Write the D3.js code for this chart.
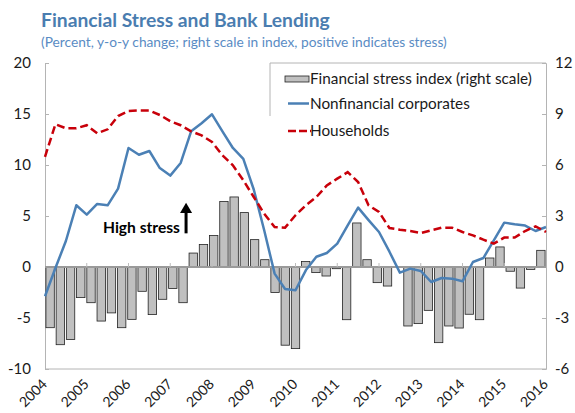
<!DOCTYPE html>
<html>
<head>
<meta charset="utf-8">
<script src="https://cdn.jsdelivr.net/npm/d3@7"></script>
<style>
  body { margin: 0; background: #fff; }
  svg { display: block; font-family: Lato, "Open Sans", sans-serif; }
</style>
</head>
<body>
<svg id="chart" width="575" height="413"></svg>
<script>
// ---- data -------------------------------------------------------------
const years = ["2004", "2005", "2006", "2007", "2008", "2009", "2010",
               "2011", "2012", "2013", "2014", "2015", "2016"];
// quarterly categories, 2004Q1 .. 2016Q1
const quarters = years.flatMap(y => ["Q1", "Q2", "Q3", "Q4"].map(q => y + q)).slice(0, 49);

// Financial stress index (right scale)
const stressIndex = [
  -3.57, -4.57, -4.27, -1.80, -2.10, -3.18, -2.70, -3.57, -3.08, -1.43,
  -2.80, -1.90, -1.27, -2.10,  0.82,  1.32,  1.85,  3.85,  4.12,  3.20,
   1.61,  0.43, -1.50, -4.60, -4.80,  0.32, -0.33, -0.53, -0.10, -3.10,
   2.59,  0.43, -0.92, -1.12,  0.00, -3.47, -3.33, -2.55, -4.45, -3.47,
  -3.59, -2.78, -3.10,  0.53,  1.18, -0.25, -1.24, -0.14,  0.98
];

// Bank lending growth, percent y-o-y (left scale)
const corporates = [
  -2.87, -0.10,  2.55,  6.05,  5.13,  6.18,  6.05,  7.68, 11.67, 11.00,
  11.37,  9.70,  8.96, 10.20, 13.30, 14.10, 14.97, 13.30, 11.67, 10.60,
   7.60,  3.60, -0.65, -2.15, -2.28, -0.30,  1.00,  1.37,  2.29,  4.09,
   5.82,  4.60,  3.43,  1.50, -0.55, -0.16, -0.39, -1.47, -1.08, -1.14,
  -1.40,  0.49,  0.88,  2.60,  4.35,  4.19,  4.06,  3.53,  3.92
];
const households = [
  10.80, 14.00, 13.60, 13.60, 13.90, 13.10, 13.50, 14.80, 15.30, 15.35,
  15.35, 14.90, 14.30, 13.90, 13.30, 12.90, 12.25, 10.95,  9.97,  8.50,
   6.86,  5.23,  3.92,  3.86,  5.07,  6.05,  6.86,  8.00,  8.66,  9.30,
   8.33,  6.05,  5.39,  3.82,  3.66,  3.53,  3.33,  3.60,  3.86,  3.86,
   3.43,  3.10,  2.68,  2.29,  2.88,  2.88,  3.53,  3.99,  3.43
];

const leftTicks = [-10, -5, 0, 5, 10, 15, 20];
const rightTicks = [-6, -3, 0, 3, 6, 9, 12];

// ---- layout -----------------------------------------------------------
const plot = { left: 45, right: 546, top: 63, bottom: 369 };
const frameColor = "#b4b4b4";
const textColor = "#1a1a1a";

const svg = d3.select("#chart");

const xBand = d3.scaleBand().domain(quarters)
  .range([plot.left, plot.right]).paddingInner(0.18).paddingOuter(0.09);
const xPoint = d3.scalePoint().domain(quarters)
  .range([plot.left, plot.right]).padding(0);
const yLeft = d3.scaleLinear().domain([-10, 20]).range([plot.bottom, plot.top]);
const yRight = d3.scaleLinear().domain([-6, 12]).range([plot.bottom, plot.top]);

// scale a text element's font size so it spans the given width
function fitWidth(sel, width) {
  const len = sel.node().getComputedTextLength();
  const fs = parseFloat(sel.attr("font-size"));
  sel.attr("font-size", (fs * width / len).toFixed(2));
  return sel;
}

// ---- titles -----------------------------------------------------------
fitWidth(svg.append("text")
  .attr("x", 41).attr("y", 27)
  .attr("font-size", 19).attr("font-weight", 700)
  .attr("fill", "#4a7db0")
  .text("Financial Stress and Bank Lending"), 289);

fitWidth(svg.append("text")
  .attr("x", 41).attr("y", 47)
  .attr("font-size", 13)
  .attr("fill", "#5a8cc4")
  .text("(Percent, y-o-y change; right scale in index, positive indicates stress)"), 406);

// ---- frame and axes ---------------------------------------------------
const axisL = svg.append("g").attr("transform", `translate(${plot.left},0)`)
  .call(d3.axisRight(yLeft).tickValues(leftTicks).tickSize(4).tickFormat(""));
const axisR = svg.append("g").attr("transform", `translate(${plot.right},0)`)
  .call(d3.axisLeft(yRight).tickValues(rightTicks).tickSize(4).tickFormat(""));
[axisL, axisR].forEach(g => {
  g.select(".domain").attr("stroke", frameColor).attr("stroke-width", 1);
  g.selectAll(".tick line").attr("stroke", frameColor);
});
svg.append("line")
  .attr("x1", plot.left).attr("x2", plot.right)
  .attr("y1", plot.bottom).attr("y2", plot.bottom)
  .attr("stroke", frameColor);

svg.append("g").selectAll("text").data(leftTicks).join("text")
  .attr("x", 31).attr("y", d => yLeft(d)).attr("dy", "0.36em")
  .attr("text-anchor", "end").attr("font-size", 15).attr("fill", textColor)
  .text(d => d);

svg.append("g").selectAll("text").data(rightTicks).join("text")
  .attr("x", 555).attr("y", d => yRight(d)).attr("dy", "0.36em")
  .attr("text-anchor", "start").attr("font-size", 15).attr("fill", textColor)
  .text(d => d);

// ---- bars -------------------------------------------------------------
svg.append("g").selectAll("rect").data(stressIndex).join("rect")
  .attr("x", (d, i) => xBand(quarters[i]))
  .attr("width", xBand.bandwidth())
  .attr("y", d => Math.min(yRight(d), yRight(0)))
  .attr("height", d => Math.abs(yRight(d) - yRight(0)))
  .attr("fill", "#c0c0c0")
  .attr("stroke", "#222")
  .attr("stroke-width", 0.8);

// zero line with yearly ticks
svg.append("line")
  .attr("x1", plot.left).attr("x2", plot.right)
  .attr("y1", yRight(0)).attr("y2", yRight(0))
  .attr("stroke", "#9a9a9a").attr("stroke-width", 2);

const yearStarts = years.map(y => y + "Q1");
svg.append("g").selectAll("line").data(yearStarts.slice(1, -1)).join("line")
  .attr("x1", d => xPoint(d)).attr("x2", d => xPoint(d))
  .attr("y1", yRight(0)).attr("y2", yRight(0) - 4)
  .attr("stroke", "#bdbdbd");

// rotated year labels
svg.append("g").selectAll("text").data(years).join("text")
  .attr("transform", d => `translate(${xPoint(d + "Q1") + 3},385) rotate(-45)`)
  .attr("text-anchor", "end").attr("font-size", 14).attr("fill", textColor)
  .text(d => d);

// ---- lines ------------------------------------------------------------
const lineL = d3.line().x((d, i) => xPoint(quarters[i])).y(d => yLeft(d));

svg.append("path").datum(corporates)
  .attr("d", lineL)
  .attr("fill", "none").attr("stroke", "#4b80b5")
  .attr("stroke-width", 2.5).attr("stroke-linejoin", "round");

svg.append("path").datum(households)
  .attr("d", lineL)
  .attr("fill", "none").attr("stroke", "#c8000a")
  .attr("stroke-width", 2.5).attr("stroke-dasharray", "8,4");

// ---- annotation -------------------------------------------------------
const arrowX = xBand(quarters[14]) - 3;
svg.append("line")
  .attr("x1", arrowX).attr("x2", arrowX)
  .attr("y1", yLeft(3.3)).attr("y2", yLeft(5.6))
  .attr("stroke", "#000").attr("stroke-width", 3);
svg.append("path")
  .attr("d", `M${arrowX - 6},${yLeft(5.3)} L${arrowX},${yLeft(6.3)} L${arrowX + 6},${yLeft(5.3)} Z`)
  .attr("fill", "#000");

fitWidth(svg.append("text")
  .attr("x", 103).attr("y", yLeft(3.3))
  .attr("font-size", 14).attr("font-weight", 700).attr("fill", "#000")
  .text("High stress"), 77);

// ---- legend -----------------------------------------------------------
svg.append("path")
  .attr("d", "M270,116 V63 H546")
  .attr("fill", "none").attr("stroke", frameColor);

const legend = svg.append("g");
legend.append("rect")
  .attr("x", 285).attr("y", 76).attr("width", 24).attr("height", 6)
  .attr("fill", "#c0c0c0").attr("stroke", "#222").attr("stroke-width", 0.8);
legend.append("line")
  .attr("x1", 288).attr("x2", 309).attr("y1", 103.5).attr("y2", 103.5)
  .attr("stroke", "#4b80b5").attr("stroke-width", 2.5);
legend.append("line")
  .attr("x1", 288).attr("x2", 311).attr("y1", 131).attr("y2", 131)
  .attr("stroke", "#c8000a").attr("stroke-width", 2.5).attr("stroke-dasharray", "8,3");

const legendLabels = ["Financial stress index (right scale)", "Nonfinancial corporates", "Households"];
const legendY = [84, 108.5, 136];
const lt = legend.selectAll("text").data(legendLabels).join("text")
  .attr("x", 310).attr("y", (d, i) => legendY[i])
  .attr("font-size", 15).attr("fill", textColor)
  .text(d => d);
// common size from the longest entry
const firstLen = lt.nodes()[0].getComputedTextLength();
lt.attr("font-size", (15 * 222 / firstLen).toFixed(2));
</script>
</body>
</html>
